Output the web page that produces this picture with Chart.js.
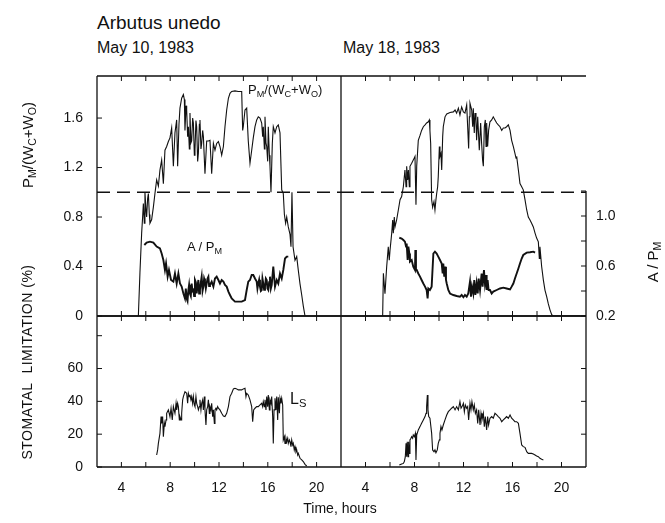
<!DOCTYPE html>
<html>
<head>
<meta charset="utf-8">
<script src="https://cdn.jsdelivr.net/npm/chart.js@4.4.1/dist/chart.umd.min.js"></script>
<style>
body { margin: 0; background: #fff; }
#page { position: relative; width: 665px; height: 523px; overflow: hidden; font-family: "Liberation Sans", Arial, sans-serif; color: #111; }
canvas { position: absolute; }
.t { position: absolute; white-space: nowrap; line-height: 1; }
.rot { transform: translate(-50%, -50%) rotate(-90deg); }
sub { font-size: 70%; vertical-align: -0.3em; line-height: 0; }
</style>
</head>
<body>
<div id="page">
  <canvas id="tl" width="346" height="255" style="left:0;top:66px"></canvas>
  <canvas id="tr" width="290" height="255" style="left:336px;top:66px"></canvas>
  <canvas id="bl" width="346" height="186" style="left:0;top:311px"></canvas>
  <canvas id="br" width="255" height="186" style="left:336px;top:311px"></canvas>

  <div class="t" style="left:97px;top:13px;font-size:19px">Arbutus unedo</div>
  <div class="t" style="left:97px;top:40px;font-size:16px">May 10, 1983</div>
  <div class="t" style="left:343px;top:40px;font-size:16px">May 18, 1983</div>

  <div class="t rot" style="left:27px;top:145px;font-size:15px">P<sub>M</sub>/(W<sub>C</sub>+W<sub>O</sub>)</div>
  <div class="t rot" style="left:27px;top:362px;font-size:14px;letter-spacing:0.5px">STOMATAL&nbsp; LIMITATION (%)</div>
  <div class="t rot" style="left:652px;top:262px;font-size:15px">A / P<sub>M</sub></div>

  <div class="t" style="left:248px;top:83px;font-size:13px">P<sub>M</sub>/(W<sub>C</sub>+W<sub>O</sub>)</div>
  <div class="t" style="left:187px;top:240px;font-size:13px">A / P<sub>M</sub></div>
  <div class="t" style="left:290px;top:391px;font-size:16px">L<sub>S</sub></div>

  <div class="t" style="left:340px;top:501px;font-size:14px;transform:translateX(-50%)">Time, hours</div>
</div>

<script>
// hours
const xTickLabels = [4, 8, 12, 16, 20];
const xTickMarks = [4, 6, 8, 10, 12, 14, 16, 18, 20];
const ratioTicks = [0, 0.4, 0.8, 1.2, 1.6];
const apmTickLabels = [0.2, 0.6, 1.0];
const apmTickMarks = [0.2, 0.4, 0.6, 0.8, 1.0, 1.2];
const lsTickLabels = [0, 20, 40, 60];
const lsTickMarks = [0, 20, 40, 60, 80];
const refLevel = 1.0;

// May 10: P_M/(W_C+W_O)  [hour, value]
const mayTenPm = [[5.39,0],[5.52,0.35],[5.66,0.67],[5.74,0.80],[5.80,0.91],[5.88,0.75],[5.93,1.00],[6.02,0.85],[6.07,0.80],[6.15,0.95],[6.21,0.99],[6.29,0.82],[6.34,0.75],[6.48,0.78],[6.62,0.88],[6.75,0.99],[6.89,1.10],[7.03,1.05],[7.16,1.18],[7.30,1.26],[7.44,1.07],[7.57,1.34],[7.71,1.37],[7.85,1.41],[7.98,1.44],[8.12,1.52],[8.26,1.21],[8.39,1.48],[8.53,1.585],[8.61,1.21],[8.72,1.55],[8.80,1.68],[8.94,1.76],[9.08,1.79],[9.16,1.75],[9.21,1.50],[9.30,1.70],[9.35,1.665],[9.43,1.45],[9.49,1.53],[9.57,1.35],[9.62,1.64],[9.70,1.40],[9.76,1.415],[9.84,1.60],[9.90,1.56],[9.98,1.30],[10.03,1.34],[10.11,1.58],[10.17,1.53],[10.25,1.25],[10.31,1.315],[10.39,1.55],[10.44,1.585],[10.52,1.35],[10.58,1.395],[10.66,1.50],[10.72,1.45],[10.85,1.15],[10.99,1.415],[11.13,1.415],[11.26,1.42],[11.40,1.15],[11.54,1.395],[11.67,1.34],[11.81,1.395],[11.95,1.41],[12.08,1.37],[12.22,1.30],[12.36,1.37],[12.49,1.53],[12.63,1.665],[12.77,1.76],[12.90,1.80],[13.04,1.815],[13.31,1.82],[13.58,1.815],[13.86,1.815],[13.94,1.50],[13.99,1.53],[14.13,1.665],[14.27,1.68],[14.40,1.415],[14.54,1.235],[14.68,1.34],[14.81,1.44],[14.95,1.53],[15.09,1.585],[15.22,1.61],[15.36,1.60],[15.50,1.56],[15.58,1.45],[15.63,1.53],[15.72,1.35],[15.77,1.61],[15.85,1.40],[15.91,1.37],[15.99,1.25],[16.04,1.53],[16.13,1.30],[16.18,1.21],[16.26,1.00],[16.37,1.395],[16.45,1.53],[16.59,1.48],[16.73,1.53],[16.86,1.545],[17.00,1.48],[17.14,1.02],[17.27,0.99],[17.36,0.82],[17.46,0.75],[17.55,0.80],[17.68,0.72],[17.82,0.66],[17.90,0.56],[17.98,1.00],[18.07,0.56],[18.23,0.45],[18.37,0.48],[18.50,0.37],[18.64,0.26],[18.78,0.17],[18.91,0.08],[19.05,0]];

// May 10: A / P_M
const mayTenApm = [[5.88,0.768],[6.07,0.787],[6.34,0.795],[6.62,0.787],[6.89,0.755],[7.16,0.74],[7.30,0.70],[7.44,0.648],[7.57,0.568],[7.66,0.62],[7.79,0.515],[7.90,0.568],[8.07,0.488],[8.26,0.475],[8.39,0.54],[8.53,0.46],[8.67,0.54],[8.80,0.46],[8.94,0.435],[9.08,0.38],[9.21,0.34],[9.28,0.42],[9.35,0.34],[9.42,0.32],[9.49,0.408],[9.55,0.45],[9.62,0.38],[9.69,0.36],[9.76,0.46],[9.83,0.40],[9.90,0.408],[9.96,0.36],[10.03,0.488],[10.10,0.47],[10.17,0.38],[10.24,0.44],[10.31,0.488],[10.37,0.38],[10.44,0.408],[10.51,0.47],[10.58,0.515],[10.65,0.40],[10.72,0.435],[10.78,0.50],[10.85,0.475],[10.92,0.42],[10.99,0.46],[11.06,0.50],[11.13,0.515],[11.19,0.44],[11.26,0.448],[11.40,0.475],[11.54,0.435],[11.67,0.50],[11.81,0.515],[11.95,0.488],[12.08,0.46],[12.22,0.488],[12.36,0.475],[12.49,0.448],[12.63,0.435],[12.77,0.395],[12.90,0.368],[13.04,0.34],[13.31,0.315],[13.58,0.315],[13.86,0.315],[14.13,0.328],[14.27,0.408],[14.40,0.475],[14.54,0.488],[14.68,0.528],[14.81,0.528],[14.95,0.50],[15.09,0.475],[15.15,0.42],[15.22,0.46],[15.29,0.49],[15.36,0.435],[15.43,0.40],[15.50,0.408],[15.56,0.50],[15.63,0.46],[15.70,0.41],[15.77,0.435],[15.84,0.50],[15.91,0.488],[15.97,0.42],[16.04,0.408],[16.11,0.47],[16.18,0.515],[16.25,0.42],[16.32,0.448],[16.45,0.595],[16.59,0.435],[16.73,0.488],[16.86,0.46],[17.00,0.54],[17.14,0.50],[17.27,0.568],[17.41,0.66],[17.55,0.675],[17.68,0.675]];

// May 10: stomatal limitation (%)
const mayTenLs = [[6.89,7.3],[6.97,10.4],[7.03,14.4],[7.16,20.5],[7.25,30.7],[7.30,26.6],[7.38,30.7],[7.44,18.5],[7.52,26.6],[7.57,24.6],[7.66,28.7],[7.71,32.7],[7.85,34.8],[7.98,30.7],[8.07,35.8],[8.17,28.7],[8.26,36.8],[8.39,32.7],[8.48,38.8],[8.53,34.8],[8.61,38.8],[8.67,36.8],[8.75,28.7],[8.80,30.7],[8.89,28.7],[8.94,32.7],[9.02,40.9],[9.08,42.9],[9.21,45.9],[9.35,44.9],[9.43,38.8],[9.49,44.9],[9.57,42.9],[9.62,43.9],[9.70,40.9],[9.76,42.9],[9.84,38.8],[9.90,42.9],[9.98,37.8],[10.03,36.8],[10.11,42.9],[10.17,38.8],[10.25,36.8],[10.31,34.8],[10.39,36.8],[10.44,40.9],[10.52,34.8],[10.58,38.8],[10.66,40.9],[10.72,34.8],[10.80,42.9],[10.85,34.8],[10.93,25.6],[10.99,34.8],[11.07,36.8],[11.13,40.9],[11.21,32.7],[11.26,36.8],[11.34,34.8],[11.40,38.8],[11.48,30.7],[11.54,34.8],[11.62,26.6],[11.67,34.8],[11.75,35.8],[11.81,34.8],[11.89,36.8],[11.95,35.8],[12.08,34.8],[12.22,32.7],[12.36,31.1],[12.49,30.7],[12.63,32.7],[12.77,36.8],[12.90,42.9],[13.04,44.9],[13.18,47.6],[13.31,48.0],[13.45,47.6],[13.58,47.0],[13.86,47.0],[13.99,47.6],[14.13,48.0],[14.21,42.9],[14.27,44.9],[14.40,43.9],[14.54,40.9],[14.68,36.8],[14.76,27.6],[14.84,34.8],[14.95,35.8],[15.09,36.8],[15.22,36.8],[15.36,37.8],[15.50,38.8],[15.58,36.8],[15.63,39.8],[15.72,36.8],[15.77,40.9],[15.85,34.8],[15.91,42.9],[15.99,36.8],[16.04,43.9],[16.13,34.8],[16.18,40.9],[16.26,38.8],[16.32,42.9],[16.40,30.7],[16.45,14.4],[16.51,34.8],[16.59,41.9],[16.67,34.8],[16.73,42.9],[16.81,28.7],[16.86,42.5],[16.95,32.7],[17.00,41.9],[17.08,38.8],[17.14,41.9],[17.22,37.8],[17.27,16.5],[17.36,18.5],[17.41,14.4],[17.49,17.5],[17.55,15.4],[17.63,17.5],[17.68,14.4],[17.77,16.5],[17.82,15.4],[17.90,12.4],[17.96,16.5],[18.04,13.4],[18.09,14.4],[18.17,10.4],[18.23,12.4],[18.31,9.3],[18.37,10.4],[18.45,7.3],[18.50,8.3],[18.64,5.3],[18.78,4.3],[18.91,3.3],[19.05,1.6],[19.19,0.6]];

// May 18: P_M/(W_C+W_O)
const mayEighteenPm = [[5.40,0],[5.46,0.345],[5.59,0.18],[5.73,0.40],[5.86,0.56],[5.94,0.45],[6.00,0.53],[6.14,0.67],[6.22,0.776],[6.27,0.67],[6.35,0.80],[6.41,0.72],[6.54,0.776],[6.68,0.857],[6.82,0.94],[6.95,0.965],[7.09,1.045],[7.22,1.18],[7.31,1.045],[7.36,1.21],[7.44,1.10],[7.50,1.18],[7.58,1.045],[7.63,1.21],[7.77,1.235],[7.90,1.26],[8.04,1.29],[8.12,0.90],[8.18,1.21],[8.31,1.42],[8.45,1.46],[8.58,1.50],[8.72,1.53],[8.86,1.545],[8.99,1.56],[9.13,1.57],[9.21,1.585],[9.26,1.50],[9.32,1.395],[9.40,0.94],[9.48,0.88],[9.59,0.925],[9.67,0.857],[9.75,0.94],[9.81,0.99],[9.89,1.045],[9.94,1.125],[10.03,1.37],[10.08,1.29],[10.16,1.315],[10.22,1.18],[10.30,1.45],[10.35,1.53],[10.49,1.61],[10.63,1.633],[10.90,1.645],[11.17,1.65],[11.31,1.665],[11.44,1.64],[11.58,1.68],[11.71,1.625],[11.85,1.69],[11.99,1.65],[12.12,1.64],[12.26,1.706],[12.34,1.53],[12.42,1.355],[12.48,1.61],[12.53,1.72],[12.67,1.665],[12.75,1.53],[12.80,1.68],[12.88,1.48],[12.94,1.64],[13.02,1.585],[13.07,1.42],[13.16,1.61],[13.29,1.34],[13.40,1.56],[13.48,1.395],[13.56,1.26],[13.62,1.21],[13.70,1.53],[13.78,1.585],[13.84,1.37],[13.89,1.56],[13.97,1.37],[14.05,1.50],[14.16,1.57],[14.30,1.585],[14.43,1.61],[14.57,1.585],[14.71,1.56],[14.84,1.545],[14.98,1.53],[15.12,1.50],[15.25,1.52],[15.39,1.52],[15.52,1.53],[15.66,1.545],[15.80,1.50],[15.93,1.42],[16.07,1.37],[16.20,1.315],[16.29,1.275],[16.34,1.29],[16.48,1.18],[16.61,1.07],[16.75,1.045],[16.88,1.02],[17.02,0.94],[17.16,0.857],[17.29,0.80],[17.43,0.776],[17.56,0.75],[17.70,0.72],[17.84,0.67],[17.97,0.63],[18.11,0.60],[18.19,0.466],[18.24,0.56],[18.38,0.40],[18.52,0.29],[18.65,0.21],[18.79,0.156],[18.92,0.10],[19.06,0.05],[19.20,0.01],[19.33,0],[21.51,0]];

// May 18: A / P_M
const mayEighteenApm = [[6.76,0.826],[6.95,0.82],[7.09,0.808],[7.22,0.795],[7.31,0.755],[7.36,0.78],[7.44,0.648],[7.50,0.755],[7.58,0.70],[7.63,0.635],[7.77,0.648],[7.90,0.595],[8.04,0.568],[8.07,0.728],[8.12,0.568],[8.18,0.568],[8.31,0.54],[8.45,0.515],[8.58,0.488],[8.72,0.46],[8.86,0.435],[8.99,0.408],[9.07,0.34],[9.13,0.42],[9.26,0.408],[9.40,0.435],[9.54,0.70],[9.67,0.715],[9.81,0.70],[9.94,0.675],[10.08,0.648],[10.22,0.62],[10.30,0.54],[10.35,0.62],[10.43,0.515],[10.49,0.595],[10.57,0.488],[10.63,0.46],[10.76,0.408],[10.90,0.38],[11.17,0.368],[11.44,0.36],[11.71,0.355],[11.85,0.368],[11.99,0.35],[12.12,0.368],[12.26,0.355],[12.39,0.38],[12.53,0.475],[12.61,0.355],[12.69,0.435],[12.80,0.38],[12.88,0.488],[12.97,0.368],[13.07,0.46],[13.16,0.38],[13.24,0.50],[13.35,0.408],[13.48,0.54],[13.56,0.435],[13.67,0.568],[13.75,0.46],[13.84,0.528],[13.89,0.408],[13.97,0.488],[14.05,0.408],[14.16,0.408],[14.30,0.38],[14.43,0.395],[14.71,0.408],[14.98,0.42],[15.25,0.427],[15.52,0.42],[15.80,0.413],[15.93,0.435],[16.07,0.46],[16.20,0.50],[16.34,0.54],[16.48,0.58],[16.61,0.62],[16.75,0.66],[16.88,0.688],[17.16,0.707],[17.43,0.71],[17.70,0.715],[17.84,0.707]];

// May 18: stomatal limitation (%)
const mayEighteenLs = [[6.76,1.2],[6.95,1.8],[7.09,2.2],[7.17,3.3],[7.25,6.3],[7.31,14.4],[7.36,6.3],[7.41,15.4],[7.47,6.3],[7.52,15.4],[7.58,8.3],[7.63,16.5],[7.71,17.5],[7.77,18.5],[7.85,17.5],[7.90,19.5],[7.99,18.5],[8.07,20.5],[8.12,4.3],[8.18,19.5],[8.31,22.6],[8.45,24.6],[8.58,26.6],[8.72,28.7],[8.86,30.7],[8.94,32.7],[8.99,36.8],[9.05,43.9],[9.10,34.8],[9.16,30.7],[9.26,29.7],[9.40,20.5],[9.48,10.4],[9.59,9.3],[9.67,10.4],[9.75,8.7],[9.86,10.4],[9.94,14.4],[10.03,16.5],[10.08,20.5],[10.16,24.6],[10.24,22.6],[10.35,25.6],[10.49,28.7],[10.63,31.7],[10.76,33.7],[10.90,34.8],[11.03,35.8],[11.17,36.8],[11.31,34.8],[11.44,36.8],[11.58,34.8],[11.71,39.8],[11.80,35.8],[11.88,36.8],[11.99,38.8],[12.07,33.7],[12.15,37.8],[12.26,35.8],[12.34,36.8],[12.42,28.7],[12.53,38.8],[12.61,34.8],[12.69,39.8],[12.80,34.8],[12.88,37.8],[12.97,32.7],[13.07,34.8],[13.16,26.6],[13.24,34.8],[13.35,25.6],[13.43,32.7],[13.51,28.7],[13.62,32.7],[13.70,24.6],[13.78,30.7],[13.89,22.6],[13.97,30.7],[14.05,25.6],[14.16,29.7],[14.30,30.7],[14.43,29.7],[14.57,32.7],[14.71,31.7],[14.84,30.7],[14.98,29.7],[15.12,27.6],[15.25,28.7],[15.39,29.7],[15.52,30.7],[15.66,29.7],[15.80,31.7],[15.93,29.7],[16.07,28.7],[16.20,27.6],[16.34,27.6],[16.48,26.6],[16.61,20.5],[16.75,13.4],[16.88,12.4],[17.02,12.0],[17.16,9.3],[17.29,8.3],[17.43,8.3],[17.56,8.3],[17.70,7.9],[17.84,7.3],[17.97,6.7],[18.11,6.3],[18.24,5.3],[18.38,4.7],[18.52,4.3]];

const INK = '#111';
Chart.defaults.font.family = '"Liberation Sans", Arial, sans-serif';
Chart.defaults.font.size = 14;
Chart.defaults.color = INK;

const toPoints = arr => arr.map(p => ({ x: p[0], y: p[1] }));

// stop the layout from reserving room for half tick labels
function noPad(s) { s.paddingTop = 0; s.paddingBottom = 0; s.paddingLeft = 0; s.paddingRight = 0; }

// frame lines and inward tick marks, placed through the chart scales
const frame = {
  id: 'frame',
  afterDatasetsDraw(chart, args, o) {
    const { ctx, chartArea: a, scales } = chart;
    ctx.save();
    ctx.strokeStyle = INK;
    ctx.lineWidth = 1.3;
    ctx.beginPath();
    if (o.top) { ctx.moveTo(a.left, a.top); ctx.lineTo(a.right, a.top); }
    if (o.bottom) { ctx.moveTo(a.left, a.bottom); ctx.lineTo(a.right, a.bottom); }
    if (o.left) { ctx.moveTo(a.left, a.top); ctx.lineTo(a.left, a.bottom); }
    if (o.right) {
      const y0 = o.rightFrom !== undefined ? scales[o.rightAxis].getPixelForValue(o.rightFrom) : a.top;
      ctx.moveTo(a.right, y0); ctx.lineTo(a.right, a.bottom);
    }
    ctx.stroke();

    const len = 5;
    ctx.lineWidth = 1;
    ctx.beginPath();
    xTickMarks.forEach(v => {
      const x = scales.x.getPixelForValue(v);
      if (o.top) { ctx.moveTo(x, a.top); ctx.lineTo(x, a.top + len); }
      if (o.bottom) { ctx.moveTo(x, a.bottom); ctx.lineTo(x, a.bottom - len); }
    });
    if (o.leftMarks) {
      o.leftMarks.values.forEach(v => {
        const y = scales[o.leftMarks.axis].getPixelForValue(v);
        ctx.moveTo(a.left, y); ctx.lineTo(a.left + len, y);
      });
    }
    if (o.rightMarks) {
      o.rightMarks.values.forEach(v => {
        const y = scales[o.rightMarks.axis].getPixelForValue(v);
        ctx.moveTo(a.right, y); ctx.lineTo(a.right - len, y);
      });
    }
    ctx.stroke();
    ctx.restore();
  }
};

function xAxis(showLabels) {
  return {
    type: 'linear', min: 2, max: 22,
    display: showLabels,
    grid: { display: false, drawTicks: false },
    border: { display: false },
    ticks: { padding: 13, maxRotation: 0, callback: v => String(v) },
    afterBuildTicks: s => { s.ticks = xTickLabels.map(v => ({ value: v })); },
    afterFit: s => { s.height = showLabels ? 30 : 0; noPad(s); }
  };
}

function valueAxis(opts) {
  return Object.assign({
    type: 'linear',
    grid: { display: false, drawTicks: false },
    border: { display: false }
  }, opts);
}

const lineStyle = (data, width, axis) => ({
  data: toPoints(data),
  borderColor: INK,
  borderWidth: width,
  pointRadius: 0,
  tension: 0,
  yAxisID: axis
});

const refLine = {
  data: [{ x: 2, y: refLevel }, { x: 22, y: refLevel }],
  borderColor: INK,
  borderWidth: 1.6,
  borderDash: [13, 7],
  pointRadius: 0,
  yAxisID: 'y'
};

const common = {
  responsive: false,
  animation: false,
  events: [],
  plugins: { legend: { display: false }, tooltip: { enabled: false } }
};

function fmt(v) { return v === 0 ? '0' : v.toFixed(1); }

// May 10, top panel
new Chart(document.getElementById('tl'), {
  type: 'line',
  data: { datasets: [refLine, lineStyle(mayTenPm, 1.1, 'y'), lineStyle(mayTenApm, 1.9, 'y2')] },
  options: Object.assign({}, common, {
    layout: { padding: { top: 10, right: 5, bottom: 5, left: 0 } },
    scales: {
      x: xAxis(false),
      y: valueAxis({
        position: 'left', min: 0, max: 1.94,
        ticks: { padding: 14, callback: v => fmt(v) },
        afterBuildTicks: s => { s.ticks = ratioTicks.map(v => ({ value: v })); },
        afterFit: s => { s.width = 97; noPad(s); }
      }),
      y2: valueAxis({ position: 'right', min: 0.2, max: 2.12, display: false })
    },
    plugins: Object.assign({}, common.plugins, {
      frame: { top: true, bottom: true, left: true, right: true, leftMarks: { axis: 'y', values: ratioTicks } }
    })
  }),
  plugins: [frame]
});

// May 18, top panel
new Chart(document.getElementById('tr'), {
  type: 'line',
  data: { datasets: [refLine, lineStyle(mayEighteenPm, 1.1, 'y'), lineStyle(mayEighteenApm, 1.9, 'y2')] },
  options: Object.assign({}, common, {
    layout: { padding: { top: 10, right: 0, bottom: 5, left: 5 } },
    scales: {
      x: xAxis(false),
      y: valueAxis({ position: 'left', min: 0, max: 1.94, display: false }),
      y2: valueAxis({
        position: 'right', min: 0.2, max: 2.12,
        ticks: { padding: 10, callback: v => fmt(v) },
        afterBuildTicks: s => { s.ticks = apmTickLabels.map(v => ({ value: v })); },
        afterFit: s => { s.width = 40; noPad(s); }
      })
    },
    plugins: Object.assign({}, common.plugins, {
      frame: { top: true, bottom: true, right: true, rightFrom: 1.2, rightAxis: 'y2', rightMarks: { axis: 'y2', values: apmTickMarks } }
    })
  }),
  plugins: [frame]
});

// May 10, stomatal limitation
new Chart(document.getElementById('bl'), {
  type: 'line',
  data: { datasets: [lineStyle(mayTenLs, 1.1, 'y')] },
  options: Object.assign({}, common, {
    layout: { padding: { top: 5, right: 5, bottom: 0, left: 0 } },
    scales: {
      x: xAxis(true),
      y: valueAxis({
        position: 'left', min: 0, max: 92,
        ticks: { padding: 14, callback: v => String(v) },
        afterBuildTicks: s => { s.ticks = lsTickLabels.map(v => ({ value: v })); },
        afterFit: s => { s.width = 97; noPad(s); }
      })
    },
    plugins: Object.assign({}, common.plugins, {
      frame: { top: true, bottom: true, left: true, right: true, leftMarks: { axis: 'y', values: lsTickMarks } }
    })
  }),
  plugins: [frame]
});

// May 18, stomatal limitation
new Chart(document.getElementById('br'), {
  type: 'line',
  data: { datasets: [lineStyle(mayEighteenLs, 1.1, 'y')] },
  options: Object.assign({}, common, {
    layout: { padding: { top: 5, right: 5, bottom: 0, left: 5 } },
    scales: {
      x: xAxis(true),
      y: valueAxis({ position: 'left', min: 0, max: 92, display: false })
    },
    plugins: Object.assign({}, common.plugins, {
      frame: { top: true, bottom: true, right: true, rightMarks: { axis: 'y', values: lsTickMarks.slice(1, 4) } }
    })
  }),
  plugins: [frame]
});
</script>
</body>
</html>
